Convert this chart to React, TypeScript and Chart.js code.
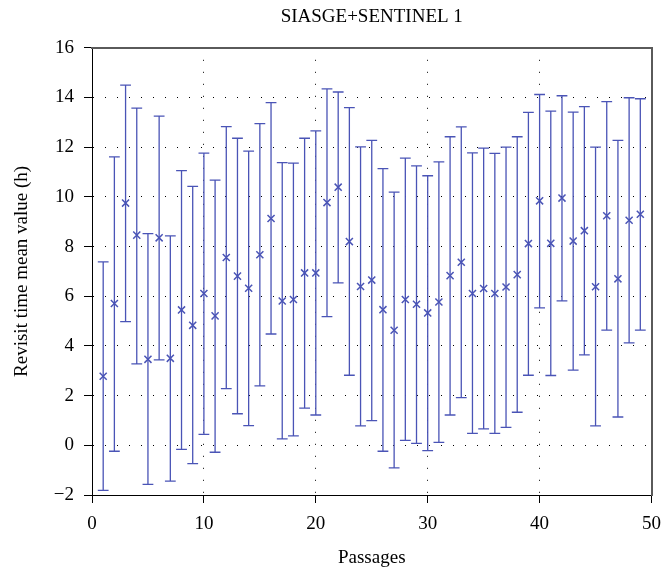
import { useEffect, useRef } from 'react';
import { Chart, registerables } from 'chart.js';

Chart.register(...registerables);

const passages = [
  1, 2, 3, 4, 5, 6, 7, 8, 9, 10,
  11, 12, 13, 14, 15, 16, 17, 18, 19, 20,
  21, 22, 23, 24, 25, 26, 27, 28, 29, 30,
  31, 32, 33, 34, 35, 36, 37, 38, 39, 40,
  41, 42, 43, 44, 45, 46, 47, 48, 49,
];

const meanValues = [
  2.78, 5.71, 9.75, 8.46, 3.46, 8.35, 3.5, 5.45, 4.83, 6.11,
  5.21, 7.56, 6.81, 6.32, 7.67, 9.13, 5.81, 5.87, 6.94, 6.94,
  9.77, 10.39, 8.2, 6.39, 6.65, 5.46, 4.63, 5.87, 5.68, 5.33,
  5.77, 6.83, 7.37, 6.11, 6.31, 6.11, 6.37, 6.87, 8.12, 9.84,
  8.13, 9.95, 8.22, 8.64, 6.38, 9.24, 6.7, 9.06, 9.3,
];

const upperValues = [
  7.38, 11.61, 14.5, 13.57, 8.52, 13.25, 8.43, 11.06, 10.42, 11.76,
  10.67, 12.83, 12.36, 11.84, 12.95, 13.79, 11.38, 11.36, 12.36, 12.66,
  14.35, 14.22, 13.59, 12.01, 12.27, 11.14, 10.19, 11.56, 11.25, 10.85,
  11.41, 12.42, 12.82, 11.77, 11.96, 11.75, 12.0, 12.42, 13.4, 14.12,
  13.45, 14.07, 13.41, 13.63, 12.0, 13.83, 12.27, 13.99, 13.95,
];

const lowerValues = [
  -1.81, -0.24, 4.98, 3.28, -1.57, 3.44, -1.44, -0.16, -0.74, 0.44,
  -0.28, 2.28, 1.27, 0.79, 2.39, 4.48, 0.26, 0.38, 1.5, 1.22,
  5.18, 6.54, 2.82, 0.78, 0.99, -0.24, -0.91, 0.2, 0.08, -0.21,
  0.12, 1.22, 1.92, 0.48, 0.66, 0.48, 0.72, 1.33, 2.82, 5.53,
  2.81, 5.81, 3.03, 3.64, 0.78, 4.64, 1.14, 4.12, 4.64,
];

const xTickValues = [0, 10, 20, 30, 40, 50];
const yTickValues = [-2, 0, 2, 4, 6, 8, 10, 12, 14, 16];

const titleText = 'SIASGE+SENTINEL 1';
const xTitleText = 'Passages';
const yTitleText = 'Revisit time mean value (h)';

const BLUE = '#4a54b6';
const FONT = 'Liberation Serif';

const errorBarPlugin = {
  id: 'errorBars',
  beforeDatasetsDraw(chart: any) {
    const { ctx } = chart;
    const x = chart.scales.x;
    const y = chart.scales.y;
    ctx.save();
    ctx.strokeStyle = BLUE;
    ctx.lineWidth = 1.3;
    const half = 5.4;
    passages.forEach((p, i) => {
      const px = x.getPixelForValue(p);
      const top = y.getPixelForValue(upperValues[i]);
      const bot = y.getPixelForValue(lowerValues[i]);
      ctx.beginPath();
      ctx.moveTo(px, top);
      ctx.lineTo(px, bot);
      ctx.moveTo(px - half, top);
      ctx.lineTo(px + half, top);
      ctx.moveTo(px - half, bot);
      ctx.lineTo(px + half, bot);
      ctx.stroke();
    });
    ctx.restore();
  },
};

export default function App() {
  const canvasRef = useRef<HTMLCanvasElement | null>(null);

  useEffect(() => {
    document.body.style.margin = '0';
    if (!canvasRef.current) return;
    Chart.defaults.font.family = FONT;
    Chart.defaults.color = '#000';

    const chart = new Chart(canvasRef.current, {
      type: 'scatter',
      data: {
        datasets: [
          {
            data: passages.map((p, i) => ({ x: p, y: meanValues[i] })),
            pointStyle: 'crossRot',
            pointRadius: 5,
            pointBorderWidth: 1.5,
            borderColor: BLUE,
            backgroundColor: BLUE,
            showLine: false,
          },
        ],
      },
      options: {
        animation: false,
        responsive: true,
        maintainAspectRatio: false,
        events: [],
        layout: { padding: { left: 0, right: 12, top: 0, bottom: 0 } },
        plugins: {
          legend: { display: false },
          tooltip: { enabled: false },
          title: {
            display: true,
            text: titleText,
            fullSize: false,
            color: '#000',
            font: { family: FONT, size: 19, weight: 'normal', lineHeight: 1.2 },
            padding: { top: 6, bottom: 19 },
          },
        },
        scales: {
          x: {
            type: 'linear',
            position: 'bottom',
            min: 0,
            max: 50,
            afterBuildTicks: (scale: any) => {
              scale.ticks = xTickValues.map((v) => ({ value: v }));
            },
            afterFit: (scale: any) => {
              scale.height = 76;
            },
            ticks: {
              color: '#000',
              font: { family: FONT, size: 19 },
              padding: 10,
              maxRotation: 0,
            },
            grid: {
              color: '#000',
              lineWidth: 1,
              tickLength: 8,
              tickColor: '#000',
              tickWidth: 1,
              tickBorderDash: [],
            },
            border: { color: '#000', width: 1, dash: [1, 11] },
            title: {
              display: true,
              text: xTitleText,
              color: '#000',
              font: { family: FONT, size: 19, lineHeight: 1.2 },
              padding: { top: 0, bottom: 2 },
            },
          },
          y: {
            type: 'linear',
            position: 'left',
            min: -2,
            max: 16,
            afterBuildTicks: (scale: any) => {
              scale.ticks = yTickValues.map((v) => ({ value: v }));
            },
            afterFit: (scale: any) => {
              scale.width = 92;
            },
            ticks: {
              color: '#000',
              font: { family: FONT, size: 19 },
              padding: 10,
              callback: (v: any) => (Number(v) < 0 ? '\u2212' + Math.abs(Number(v)) : String(v)),
            },
            grid: {
              color: '#000',
              lineWidth: 1,
              tickLength: 8,
              tickColor: '#000',
              tickWidth: 1,
              tickBorderDash: [],
            },
            border: { color: '#000', width: 1, dash: [1, 11] },
            title: {
              display: true,
              text: yTitleText,
              color: '#000',
              font: { family: FONT, size: 19, lineHeight: 1.2 },
              padding: { top: 11, bottom: 0 },
            },
          },
          x2: {
            type: 'linear',
            position: 'top',
            min: 0,
            max: 50,
            ticks: { display: false },
            grid: { display: false },
            border: { color: '#5a5a5a', width: 2 },
            afterFit: (scale: any) => {
              scale.height = 0;
            },
          },
          y2: {
            type: 'linear',
            position: 'right',
            min: -2,
            max: 16,
            ticks: { display: false },
            grid: { display: false },
            border: { color: '#5a5a5a', width: 2 },
            afterFit: (scale: any) => {
              scale.width = 0;
            },
          },
        },
      } as any,
      plugins: [errorBarPlugin],
    });

    return () => {
      chart.destroy();
    };
  }, []);

  return (
    <div style={{ position: 'absolute', left: 0, top: 0, width: 671, height: 571 }}>
      <canvas ref={canvasRef} />
    </div>
  );
}
